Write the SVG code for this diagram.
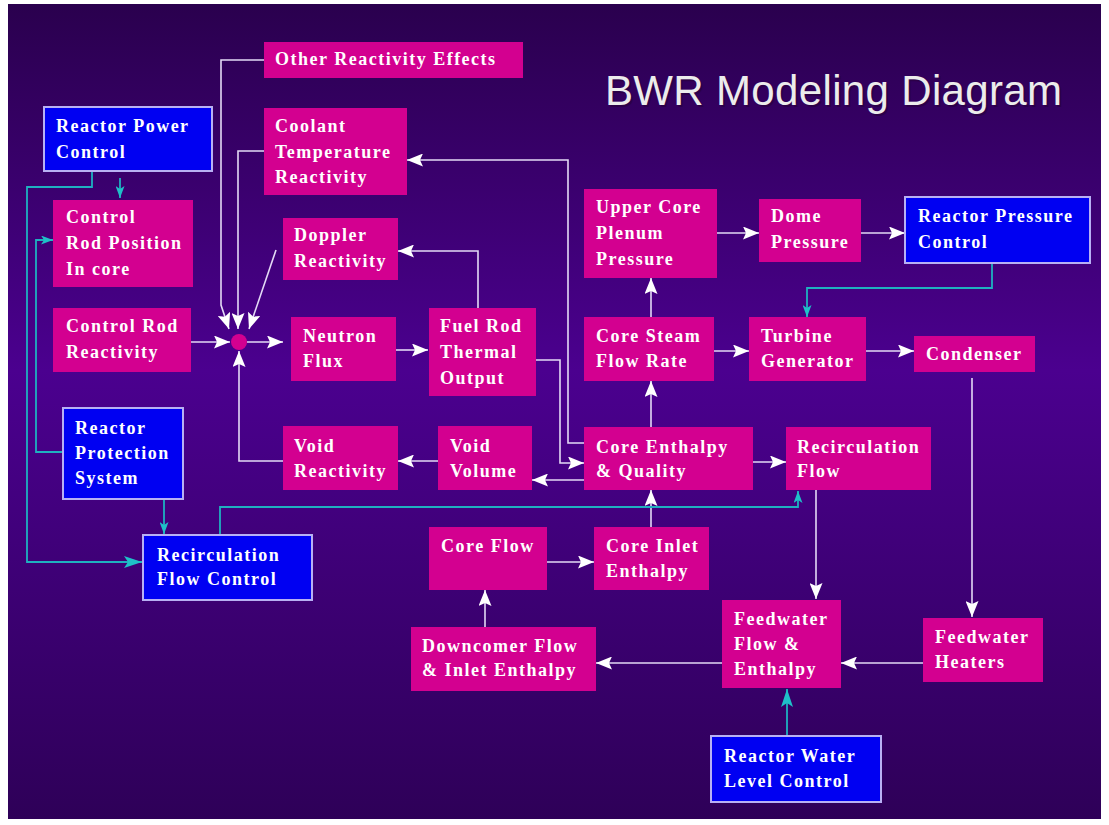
<svg xmlns="http://www.w3.org/2000/svg" width="1109" height="825" viewBox="0 0 1109 825">
<style>
.m{fill:#d30090}
.b{fill:#0000f2;stroke:#b8b0f4;stroke-width:2}
.t{font-family:"Liberation Serif","Times New Roman",serif;font-weight:bold;font-size:18px;letter-spacing:1.5px;fill:#ffffff}
.w{fill:none;stroke:#e4daf6;stroke-width:1.6}
.c{fill:none;stroke:#1fb0c0;stroke-width:1.8}
</style>
<defs>
<linearGradient id="bg" x1="0" y1="0" x2="0" y2="1">
<stop offset="0" stop-color="#2a004e"/>
<stop offset="0.45" stop-color="#4b008f"/>
<stop offset="1" stop-color="#2e0058"/>
</linearGradient>
<marker id="aw" viewBox="0 0 16 13" refX="16" refY="6.5" markerWidth="16" markerHeight="13" markerUnits="userSpaceOnUse" orient="auto"><path d="M0,0 L16,6.5 L0,13 L3,6.5 z" fill="#ffffff"/></marker>
<marker id="ac" viewBox="0 0 12 9" refX="12" refY="4.5" markerWidth="12" markerHeight="9" markerUnits="userSpaceOnUse" orient="auto"><path d="M0,0 L12,4.5 L0,9 L3,4.5 z" fill="#1fc0c8"/></marker>
<marker id="acl" viewBox="0 0 18 12" refX="18" refY="6" markerWidth="18" markerHeight="12" markerUnits="userSpaceOnUse" orient="auto"><path d="M0,0 L18,6 L0,12 L4,6 z" fill="#1fc0c8"/></marker>
</defs>
<rect x="0" y="0" width="1109" height="825" fill="#ffffff"/>
<rect x="8" y="4" width="1093" height="815" fill="url(#bg)"/>

<g id="title">
<text x="607" y="107" font-family="'Liberation Sans',Arial,sans-serif" font-size="42" textLength="457" fill="#2a0040" opacity="0.7">BWR Modeling Diagram</text>
<text x="605" y="105" font-family="'Liberation Sans',Arial,sans-serif" font-size="42" textLength="457" fill="#ececec">BWR Modeling Diagram</text>
</g>

<g id="connectors">
<path class="w" marker-end="url(#aw)" d="M264,60 H221 V305 L229,329"/>
<path class="w" marker-end="url(#aw)" d="M264,151 H238 V329"/>
<path class="w" marker-end="url(#aw)" d="M276,250 L249,329"/>
<path class="w" marker-end="url(#aw)" d="M191,342 H230"/>
<path class="w" marker-end="url(#aw)" d="M283,461 H239 V351"/>
<path class="w" marker-end="url(#aw)" d="M247,342 H283"/>
<path class="w" marker-end="url(#aw)" d="M396,350 H428"/>
<path class="w" marker-end="url(#aw)" d="M478,308 V251 H398"/>
<path class="w" marker-end="url(#aw)" d="M536,360 H560 V463 H584"/>
<path class="w" marker-end="url(#aw)" d="M584,443 H568 V160 H407"/>
<path class="w" marker-end="url(#aw)" d="M584,480 H532"/>
<path class="w" marker-end="url(#aw)" d="M438,461 H398"/>
<path class="w" marker-end="url(#aw)" d="M651,427 V381"/>
<path class="w" marker-end="url(#aw)" d="M651,317 V278"/>
<path class="w" marker-end="url(#aw)" d="M717,233 H759"/>
<path class="w" marker-end="url(#aw)" d="M861,233 H905"/>
<path class="w" marker-end="url(#aw)" d="M714,351 H749"/>
<path class="w" marker-end="url(#aw)" d="M866,351 H914"/>
<path class="w" marker-end="url(#aw)" d="M972,378 V617"/>
<path class="w" marker-end="url(#aw)" d="M753,462 H786"/>
<path class="w" marker-end="url(#aw)" d="M816,490 V599"/>
<path class="w" marker-end="url(#aw)" d="M923,663 H841"/>
<path class="w" marker-end="url(#aw)" d="M722,663 H596"/>
<path class="w" marker-end="url(#aw)" d="M485,627 V590"/>
<path class="w" marker-end="url(#aw)" d="M547,562 H594"/>
<path class="w" marker-end="url(#aw)" d="M651,528 V490"/>
<path class="c" marker-end="url(#ac)" d="M120,178 V198"/>
<path class="c" marker-end="url(#acl)" d="M92,172 V187 H27 V562 H142"/>
<path class="c" marker-end="url(#ac)" d="M63,452 H36 V240 H53"/>
<path class="c" marker-end="url(#ac)" d="M164,500 V534"/>
<path class="c" marker-end="url(#ac)" d="M220,534 V507 H798 V491"/>
<path class="c" marker-end="url(#ac)" d="M992,263 V288 H807 V317"/>
<path class="c" marker-end="url(#acl)" d="M787,736 V689"/>
</g>

<g id="sum"><circle cx="239" cy="342" r="8" class="m"/></g>

<g id="other-reactivity"><rect class="m" x="264" y="42" width="259" height="36"/><text class="t" x="275" y="65">Other Reactivity Effects</text></g>
<g id="reactor-power-control"><rect class="b" x="44" y="107" width="168" height="64"/><text class="t" x="56" y="132">Reactor Power</text><text class="t" x="56" y="158">Control</text></g>
<g id="coolant-temp"><rect class="m" x="264" y="108" width="143" height="87"/><text class="t" x="275" y="132">Coolant</text><text class="t" x="275" y="158">Temperature</text><text class="t" x="275" y="183">Reactivity</text></g>
<g id="control-rod-position"><rect class="m" x="53" y="200" width="140" height="87"/><text class="t" x="66" y="223">Control</text><text class="t" x="66" y="249">Rod Position</text><text class="t" x="66" y="275">In core</text></g>
<g id="doppler"><rect class="m" x="283" y="218" width="115" height="62"/><text class="t" x="294" y="241">Doppler</text><text class="t" x="294" y="267">Reactivity</text></g>
<g id="upper-core-plenum"><rect class="m" x="584" y="189" width="133" height="89"/><text class="t" x="596" y="213">Upper Core</text><text class="t" x="596" y="239">Plenum</text><text class="t" x="596" y="265">Pressure</text></g>
<g id="dome-pressure"><rect class="m" x="759" y="199" width="102" height="63"/><text class="t" x="771" y="222">Dome</text><text class="t" x="771" y="248">Pressure</text></g>
<g id="reactor-pressure-control"><rect class="b" x="905" y="197" width="185" height="66"/><text class="t" x="918" y="222">Reactor Pressure</text><text class="t" x="918" y="248">Control</text></g>
<g id="control-rod-reactivity"><rect class="m" x="53" y="308" width="138" height="64"/><text class="t" x="66" y="332">Control Rod</text><text class="t" x="66" y="358">Reactivity</text></g>
<g id="neutron-flux"><rect class="m" x="291" y="317" width="105" height="64"/><text class="t" x="303" y="342">Neutron</text><text class="t" x="303" y="367">Flux</text></g>
<g id="fuel-rod"><rect class="m" x="429" y="308" width="107" height="88"/><text class="t" x="440" y="332">Fuel Rod</text><text class="t" x="440" y="358">Thermal</text><text class="t" x="440" y="384">Output</text></g>
<g id="core-steam-flow"><rect class="m" x="584" y="317" width="130" height="64"/><text class="t" x="596" y="342">Core Steam</text><text class="t" x="596" y="367">Flow Rate</text></g>
<g id="turbine-generator"><rect class="m" x="749" y="317" width="117" height="64"/><text class="t" x="761" y="342">Turbine</text><text class="t" x="761" y="367">Generator</text></g>
<g id="condenser"><rect class="m" x="914" y="336" width="121" height="36"/><text class="t" x="926" y="360">Condenser</text></g>
<g id="reactor-protection"><rect class="b" x="63" y="408" width="120" height="91"/><text class="t" x="75" y="434">Reactor</text><text class="t" x="75" y="459">Protection</text><text class="t" x="75" y="484">System</text></g>
<g id="void-reactivity"><rect class="m" x="283" y="426" width="115" height="64"/><text class="t" x="294" y="452">Void</text><text class="t" x="294" y="477">Reactivity</text></g>
<g id="void-volume"><rect class="m" x="438" y="426" width="94" height="64"/><text class="t" x="450" y="452">Void</text><text class="t" x="450" y="477">Volume</text></g>
<g id="core-enthalpy"><rect class="m" x="584" y="427" width="169" height="63"/><text class="t" x="596" y="453">Core Enthalpy</text><text class="t" x="596" y="477">&amp; Quality</text></g>
<g id="recirculation-flow"><rect class="m" x="786" y="427" width="145" height="63"/><text class="t" x="797" y="453">Recirculation</text><text class="t" x="797" y="477">Flow</text></g>
<g id="recirculation-flow-control"><rect class="b" x="143" y="535" width="169" height="65"/><text class="t" x="157" y="561">Recirculation</text><text class="t" x="157" y="585">Flow Control</text></g>
<g id="core-flow"><rect class="m" x="429" y="527" width="118" height="63"/><text class="t" x="441" y="552">Core Flow</text></g>
<g id="core-inlet-enthalpy"><rect class="m" x="594" y="527" width="115" height="63"/><text class="t" x="606" y="552">Core Inlet</text><text class="t" x="606" y="577">Enthalpy</text></g>
<g id="downcomer"><rect class="m" x="411" y="627" width="185" height="64"/><text class="t" x="422" y="652">Downcomer Flow</text><text class="t" x="422" y="676">&amp; Inlet Enthalpy</text></g>
<g id="feedwater-flow"><rect class="m" x="722" y="600" width="119" height="88"/><text class="t" x="734" y="625">Feedwater</text><text class="t" x="734" y="650">Flow &amp;</text><text class="t" x="734" y="675">Enthalpy</text></g>
<g id="feedwater-heaters"><rect class="m" x="923" y="618" width="120" height="64"/><text class="t" x="935" y="643">Feedwater</text><text class="t" x="935" y="668">Heaters</text></g>
<g id="reactor-water-level"><rect class="b" x="711" y="736" width="170" height="66"/><text class="t" x="724" y="762">Reactor Water</text><text class="t" x="724" y="787">Level Control</text></g>
</svg>
